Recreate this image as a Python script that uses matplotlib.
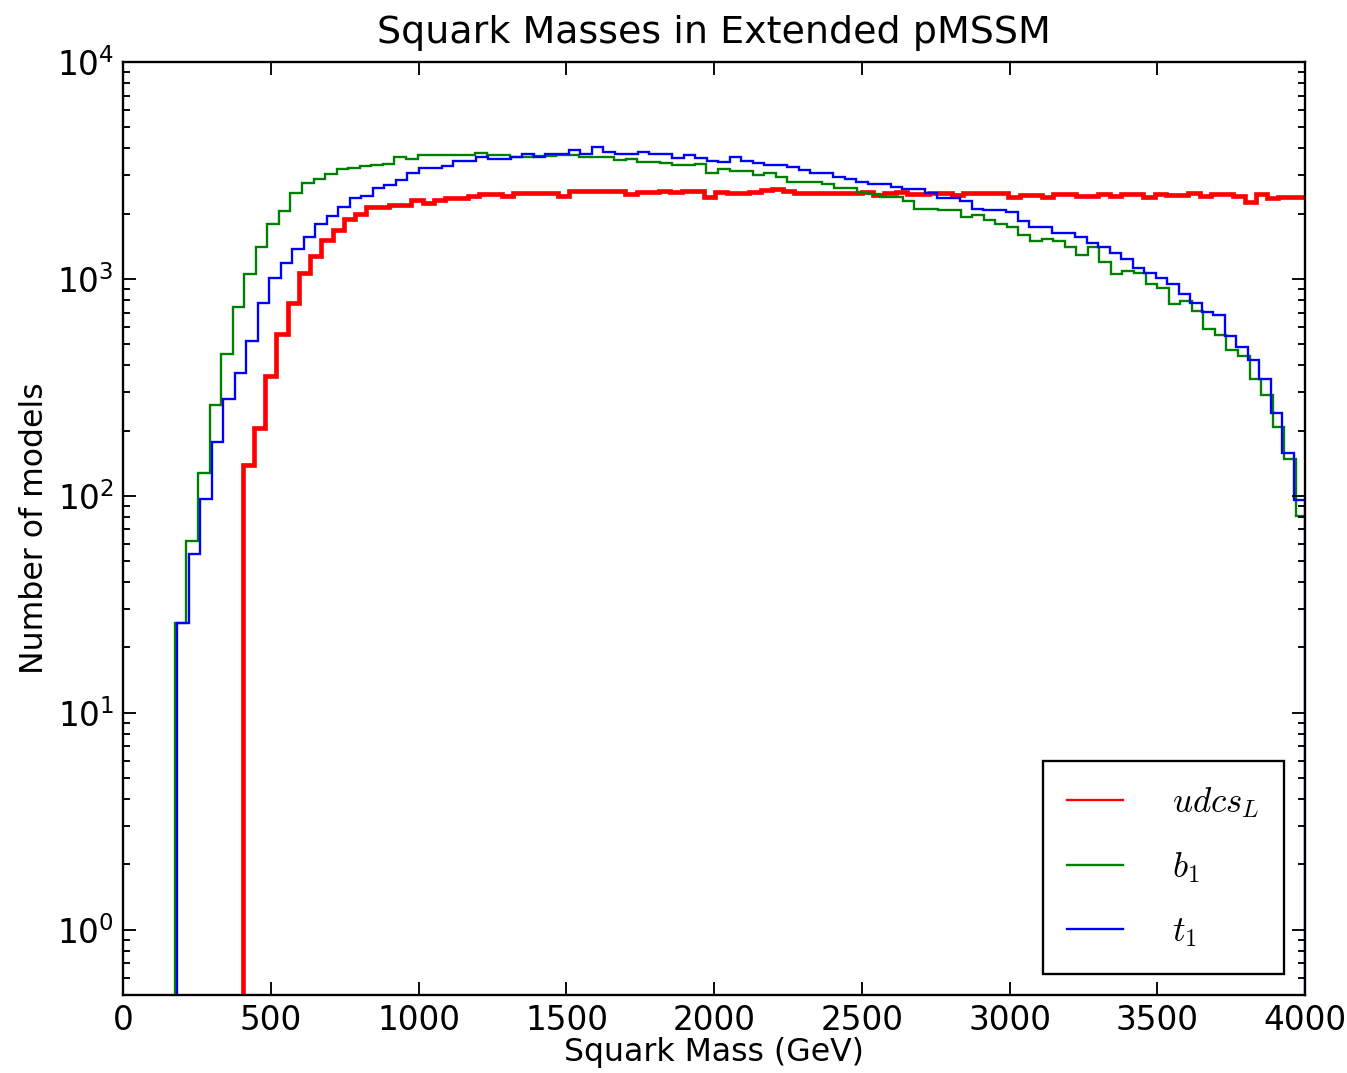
import matplotlib
matplotlib.use("Agg")
import matplotlib.pyplot as plt
import numpy as np

plt.rcParams['mathtext.fontset'] = 'cm'

# histogram counts per bin
udcs_counts = [139, 205, 357, 557, 771, 1062, 1276, 1510, 1680, 1880,
               2000, 2140, 2150, 2200, 2190, 2310, 2250, 2310, 2350, 2350,
               2420, 2460, 2460, 2400, 2500, 2480, 2480, 2480, 2400, 2540,
               2540, 2540, 2540, 2540, 2460, 2520, 2520, 2550, 2520, 2540,
               2540, 2390, 2520, 2480, 2480, 2520, 2570, 2590, 2550, 2500,
               2500, 2500, 2480, 2500, 2480, 2520, 2440, 2500, 2520, 2460,
               2460, 2500, 2500, 2440, 2500, 2500, 2480, 2500, 2380, 2440,
               2440, 2380, 2460, 2460, 2420, 2420, 2460, 2400, 2460, 2460,
               2380, 2460, 2440, 2440, 2500, 2420, 2460, 2460, 2420, 2270,
               2460, 2350, 2380, 2380, 2380]
b1_counts = [26, 62, 128, 262, 452, 740, 1050, 1400, 1800, 2060,
             2500, 2780, 2900, 3050, 3200, 3250, 3300, 3350, 3400, 3640,
             3560, 3730, 3730, 3730, 3730, 3730, 3800, 3730, 3730, 3640,
             3640, 3680, 3680, 3730, 3730, 3640, 3640, 3640, 3530, 3560,
             3470, 3470, 3410, 3350, 3350, 3400, 3070, 3200, 3130, 3130,
             3010, 3070, 2940, 2810, 2810, 2810, 2740, 2620, 2620, 2520,
             2460, 2390, 2390, 2290, 2110, 2110, 2080, 2080, 1920, 1970,
             1870, 1800, 1740, 1590, 1500, 1520, 1490, 1410, 1290, 1410,
             1200, 1050, 1090, 1060, 950, 905, 770, 790, 712, 590,
             553, 470, 440, 344, 292, 208, 148, 81]
t1_counts = [26, 54, 97, 178, 279, 367, 519, 771, 1005, 1180,
             1370, 1555, 1790, 1950, 2150, 2350, 2400, 2620, 2710, 2850,
             3070, 3235, 3235, 3300, 3510, 3510, 3660, 3580, 3580, 3660,
             3750, 3660, 3750, 3750, 3930, 3760, 4045, 3850, 3760, 3760,
             3850, 3760, 3760, 3600, 3720, 3600, 3510, 3470, 3660, 3510,
             3410, 3350, 3350, 3270, 3180, 3090, 3090, 2960, 2880, 2810,
             2740, 2740, 2660, 2590, 2590, 2480, 2350, 2350, 2290, 2110,
             2080, 2080, 2040, 1850, 1740, 1740, 1620, 1620, 1555, 1470,
             1400, 1310, 1230, 1120, 1070, 1005, 947, 851, 771, 706,
             682, 546, 487, 423, 344, 241, 157, 96]

# bin layout (GeV): first edge and bin width for each sample
udcs_start, udcs_width = 403.8, 38.11
b1_start, b1_width = 174.8, 39.11
t1_start, t1_width = 182.0, 38.97

labels = [r'$udcs_L$', r'$b_1$', r'$t_1$']

def edges(start, width, n):
    return start + width * np.arange(n + 1)

fig = plt.figure(figsize=(1347 / 168, 1073 / 168), dpi=168)
ax = fig.add_axes([0.0915, 0.0727, 0.8774, 0.8695])

ax.stairs(udcs_counts, edges(udcs_start, udcs_width, len(udcs_counts)),
          baseline=1e-3, color='#ff0000', lw=2.0, label=labels[0])
ax.stairs(b1_counts, edges(b1_start, b1_width, len(b1_counts)),
          baseline=1e-3, color='#008000', lw=1.0, label=labels[1])
ax.stairs(t1_counts, edges(t1_start, t1_width, len(t1_counts)),
          baseline=1e-3, color='#0000ff', lw=1.0, label=labels[2])

ax.set_yscale('log')
ax.set_xlim(0, 4000)
ax.set_ylim(0.5, 1e4)
ax.set_xticks(np.arange(0, 4001, 500))

ax.tick_params(which='both', direction='in', top=True, right=True, labelsize=14)
ax.tick_params(which='major', length=5.5, width=0.8, pad=4)
ax.tick_params(which='minor', length=2.8, width=0.8)
for sp in ax.spines.values():
    sp.set_linewidth(1.0)

ax.set_title('Squark Masses in Extended pMSSM', fontsize=16.3, pad=8)
ax.set_xlabel('Squark Mass (GeV)', fontsize=13.5, labelpad=0)
ax.set_ylabel('Number of models', fontsize=13.5, labelpad=3)

leg = ax.legend(loc='lower right', fontsize=15, fancybox=False, framealpha=1,
                edgecolor='black', labelspacing=0.85, handlelength=1.6,
                handletextpad=1.4, borderpad=0.7, borderaxespad=0.6)
leg.get_frame().set_linewidth(1.0)
for h in leg.legend_handles:
    h.set_linewidth(1.0)

fig.savefig('out.png', dpi=168)
